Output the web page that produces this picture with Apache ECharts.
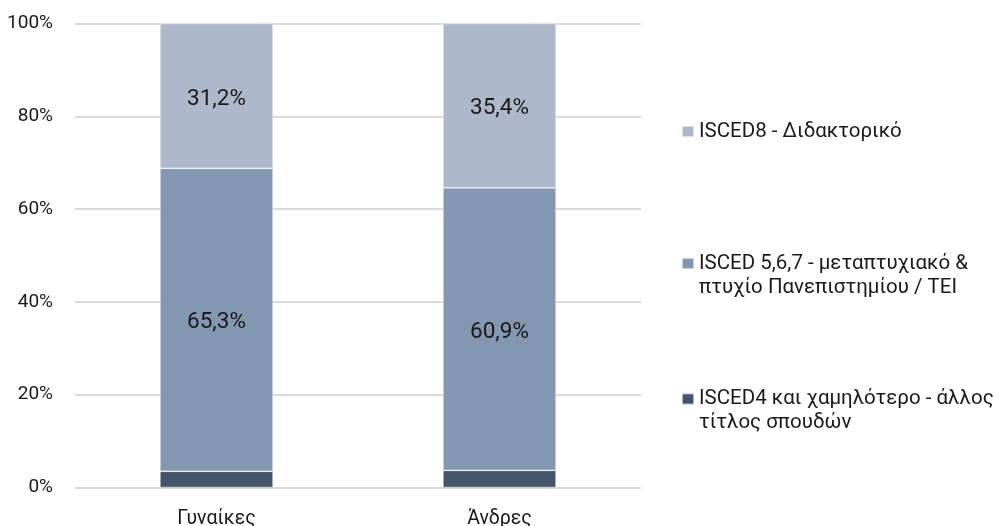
<!DOCTYPE html>
<html>
<head>
<meta charset="utf-8">
<script src="https://cdn.jsdelivr.net/npm/echarts@6/dist/echarts.min.js"></script>
<style>
html,body{margin:0;padding:0;background:#fff;}
#chart{width:1006px;height:526px;}
</style>
</head>
<body>
<div id="chart"></div>
<script>
const categories = ['Γυναίκες', 'Άνδρες'];
const seriesNames = [
  'ISCED4 και χαμηλότερο - άλλος τίτλος σπουδών',
  'ISCED 5,6,7 - μεταπτυχιακό & πτυχίο Πανεπιστημίου / ΤΕΙ',
  'ISCED8 - Διδακτορικό'
];
const legendLines = {
  'ISCED4 και χαμηλότερο - άλλος τίτλος σπουδών': ['ISCED4 και χαμηλότερο - άλλος', 'τίτλος σπουδών'],
  'ISCED 5,6,7 - μεταπτυχιακό & πτυχίο Πανεπιστημίου / ΤΕΙ': ['ISCED 5,6,7 - μεταπτυχιακό &', 'πτυχίο Πανεπιστημίου / ΤΕΙ'],
  'ISCED8 - Διδακτορικό': ['ISCED8 - Διδακτορικό']
};
const isced4 = [3.5, 3.7];
const isced567 = [65.3, 60.9];
const isced8 = [31.2, 35.4];
const yTicks = [0, 20, 40, 60, 80, 100];
const colors = ['#44546A', '#8497B0', '#ADB9CA'];

const FONT = 'Roboto';
const TXT = '#1a1a1a';
const values = [isced4, isced567, isced8];

const chart = echarts.init(document.getElementById('chart'));

function mkLegend(name, top) {
  return {
    show: true,
    orient: 'vertical',
    left: 681,
    top: top,
    padding: 0,
    itemWidth: 12,
    itemHeight: 11,
    icon: 'rect',
    selectedMode: false,
    data: [name],
    formatter: n => {
      const l = legendLines[n];
      // pad with an empty first line so the icon lines up with the first text line
      return l.length > 1 ? ' \n' + l.join('\n') : l[0];
    },
    textStyle: { fontFamily: FONT, fontSize: 20.5, color: TXT, lineHeight: 24 }
  };
}

chart.setOption({
  animation: false,
  color: colors,
  textStyle: { fontFamily: FONT },
  grid: { left: 75, right: 365, top: 23.5, bottom: 38.5, containLabel: false, outerBoundsMode: 'none' },
  legend: [
    mkLegend(seriesNames[2], 119.5),
    mkLegend(seriesNames[1], 227.5),
    mkLegend(seriesNames[0], 363)
  ],
  xAxis: {
    type: 'category',
    data: categories,
    axisLine: { show: false },
    axisTick: { show: false },
    axisLabel: { fontFamily: FONT, fontSize: 19.5, color: TXT, margin: 22 }
  },
  yAxis: {
    type: 'value',
    min: yTicks[0],
    max: yTicks[yTicks.length - 1],
    interval: yTicks[1] - yTicks[0],
    axisLine: { show: false },
    axisTick: { show: false },
    axisLabel: { formatter: '{value}%', fontFamily: FONT, fontSize: 19, color: TXT, margin: 22 },
    splitLine: { lineStyle: { color: '#d9d9d9', width: 2 } }
  },
  series: seriesNames.map((name, i) => ({
    name: name,
    type: 'bar',
    stack: 'total',
    barWidth: '40%',
    data: values[i],
    itemStyle: { color: colors[i], borderColor: 'rgba(255,255,255,0.6)', borderWidth: 0.75 },
    label: {
      show: i > 0,
      position: 'inside',
      offset: [0, 3],
      formatter: p => p.value.toFixed(1).replace('.', ',') + '%',
      fontFamily: FONT, fontSize: 22.5, color: TXT
    }
  }))
});
</script>
</body>
</html>
